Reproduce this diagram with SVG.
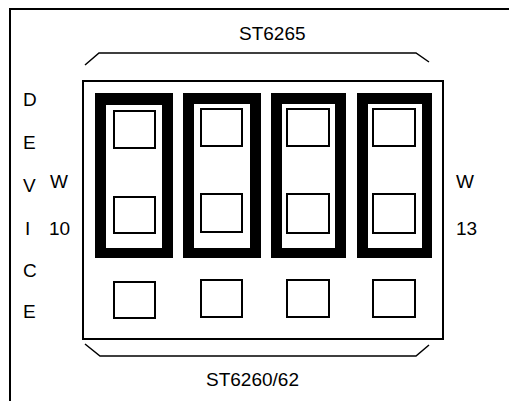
<svg xmlns="http://www.w3.org/2000/svg" width="509" height="401" viewBox="0 0 509 401">
<style>
.t{font-family:"Liberation Sans",Arial,sans-serif;font-size:19px;fill:#000}
.sq{fill:none;stroke:#000;stroke-width:2}
.br{fill:none;stroke:#000;stroke-width:1.5}
.seg{fill:#000;fill-rule:evenodd}
</style>
<rect width="509" height="401" fill="#fff"/>
<g id="frame">
<path d="M10,401 V9 H509" fill="none" stroke="#000" stroke-width="2"/>
</g>
<g id="labels">
<text class="t" x="239" y="40">ST6265</text>
<text class="t" x="206" y="386">ST6260/62</text>
<text class="t" x="23" y="106">D</text>
<text class="t" x="23" y="149">E</text>
<text class="t" x="23" y="192">V</text>
<text class="t" x="25" y="235">I</text>
<text class="t" x="23" y="277">C</text>
<text class="t" x="23" y="318">E</text>
<text class="t" x="50" y="188">W</text>
<text class="t" x="49" y="235">10</text>
<text class="t" x="456" y="188">W</text>
<text class="t" x="456" y="235">13</text>
</g>
<g id="brackets">
<path class="br" d="M85,65 L99,53 L416,53 L429,62"/>
<path class="br" d="M85,344 L100,356 L416,356 L429,345"/>
</g>
<g id="package">
<rect x="83" y="81" width="360" height="258" fill="none" stroke="#000" stroke-width="2"/>
</g>
<g id="digit1">
<path class="seg" d="M95,93 H173 V258 H95 Z M106,105 V248 H162 V105 Z"/>
<rect class="sq" x="114" y="111" width="41" height="37"/>
<rect class="sq" x="114" y="197" width="41" height="36"/>
</g>
<g id="digit2">
<path class="seg" d="M183,93 H261 V258 H183 Z M194,104 V248 H250 V104 Z"/>
<rect class="sq" x="201" y="109" width="41" height="37"/>
<rect class="sq" x="201" y="194" width="41" height="38"/>
</g>
<g id="digit3">
<path class="seg" d="M271,93 H346 V258 H271 Z M282,104 V248 H335 V104 Z"/>
<rect class="sq" x="287" y="109" width="42" height="37"/>
<rect class="sq" x="287" y="194" width="42" height="39"/>
</g>
<g id="digit4">
<path class="seg" d="M357,93 H432 V258 H357 Z M368,104 V248 H422 V104 Z"/>
<rect class="sq" x="373" y="109" width="42" height="37"/>
<rect class="sq" x="373" y="194" width="42" height="39"/>
</g>
<g id="pads">
<rect class="sq" x="114" y="282" width="41" height="36"/>
<rect class="sq" x="201" y="280" width="41" height="37"/>
<rect class="sq" x="287" y="280" width="42" height="37"/>
<rect class="sq" x="373" y="280" width="42" height="37"/>
</g>
</svg>
